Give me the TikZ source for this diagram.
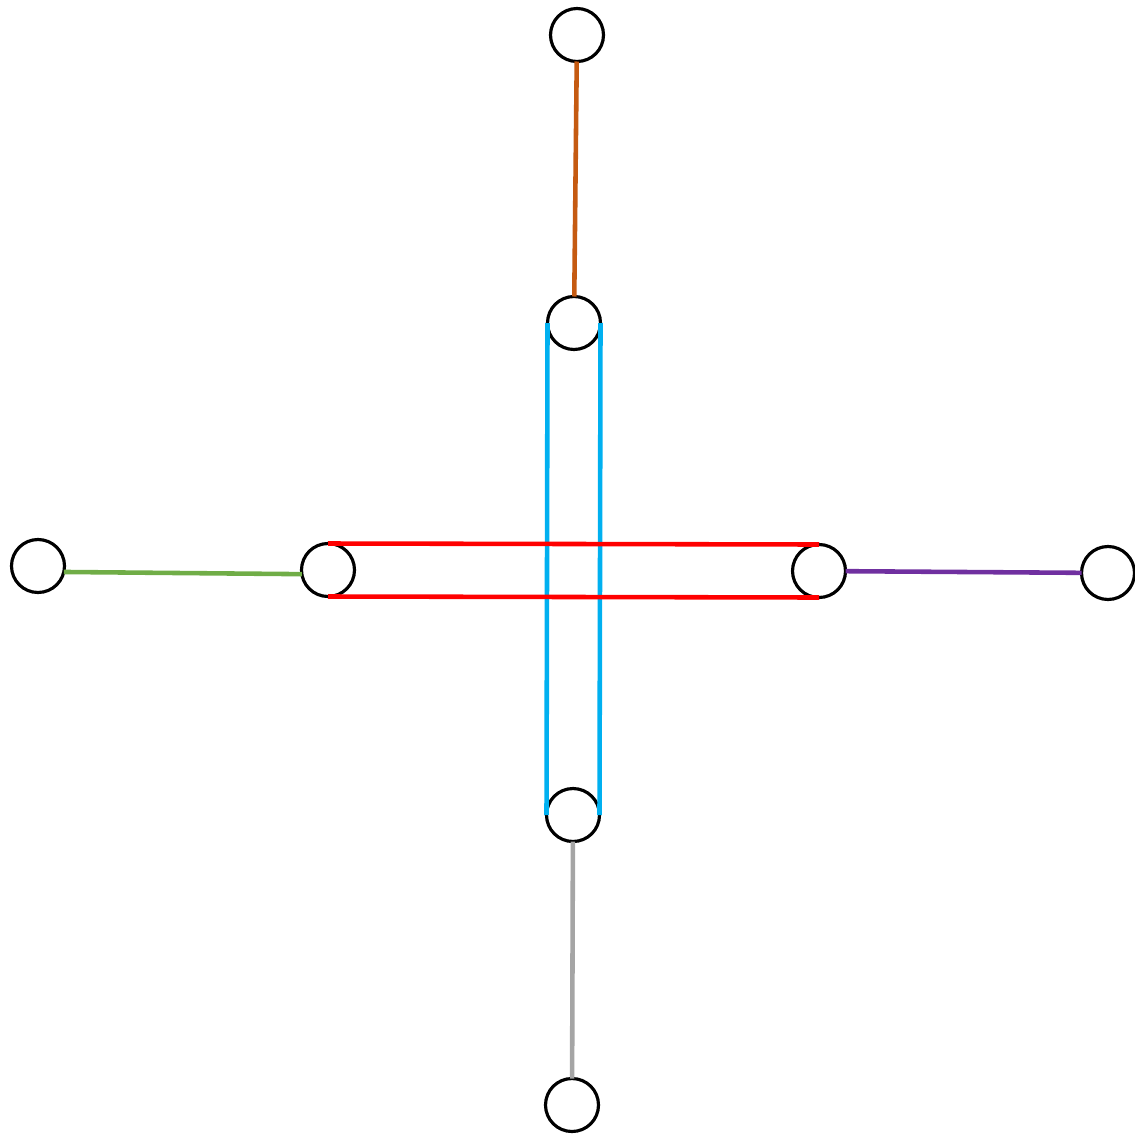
\documentclass[tikz,border=0pt]{standalone}
\usepackage{tikz}
\usetikzlibrary{arrows}

\definecolor{orangeL}{RGB}{197,90,17}
\definecolor{bleuL}{RGB}{0,176,240}
\definecolor{rougeL}{RGB}{255,0,0}
\definecolor{vertL}{RGB}{112,173,71}
\definecolor{violetL}{RGB}{112,48,160}
\definecolor{grisL}{RGB}{165,165,165}

\begin{document}
\begin{tikzpicture}[
    sommet/.style={circle,draw=black,line width=1.8pt,fill=white,minimum size=1.06cm,inner sep=0pt,outer sep=0pt},
    lien/.style={line width=2.6pt}
]

% Cadre
\useasboundingbox (0,0) rectangle (22.7,-22.66);

% Sommets
\node[sommet] (haut) at (11.54,-0.70) {};
\node[sommet] (centreH) at (11.48,-6.46) {};
\node[sommet] (gauche) at (0.76,-11.32) {};
\node[sommet] (centreG) at (6.56,-11.40) {};
\node[sommet] (centreD) at (16.38,-11.42) {};
\node[sommet] (droite) at (22.16,-11.46) {};
\node[sommet] (centreB) at (11.46,-16.30) {};
\node[sommet] (bas) at (11.44,-22.10) {};

% Branches simples
\draw[lien,orangeL] (haut) -- (centreH);
\draw[lien,vertL] (gauche.-13) -- (centreG.189);
\draw[lien,violetL] (centreD) -- (droite);
\draw[lien,grisL] (centreB) -- (bas);

% Bande verticale
\draw[lien,bleuL] (centreH.west) -- (centreB.west);
\draw[lien,bleuL] (centreH.east) -- (centreB.east);

% Bande horizontale
\draw[lien,rougeL] (centreG.north) -- (centreD.north);
\draw[lien,rougeL] (centreG.south) -- (centreD.south);

\end{tikzpicture}
\end{document}
